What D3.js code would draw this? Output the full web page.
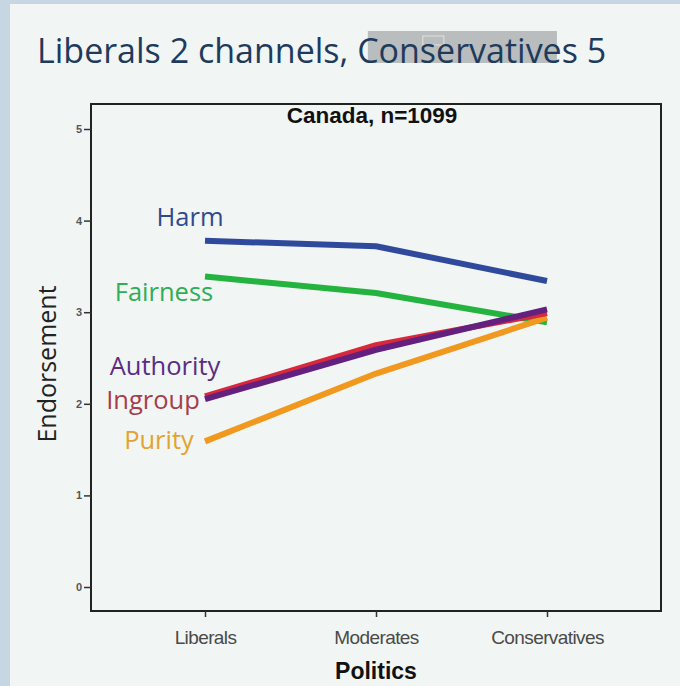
<!DOCTYPE html>
<html>
<head>
<meta charset="utf-8">
<script src="https://cdn.jsdelivr.net/npm/d3@7"></script>
<style>
body { margin: 0; background: #c6d6e3; }
svg { display: block; }
</style>
</head>
<body>
<div class="chart"></div>
<script>
var width = 680, height = 686;

// data
var groups = ["Liberals", "Moderates", "Conservatives"];
var foundations = ["Harm", "Fairness", "Purity", "Ingroup", "Authority"];
var harm = [3.78, 3.72, 3.34];
var fairness = [3.39, 3.21, 2.89];
var ingroup = [2.08, 2.64, 2.99];
var authority = [2.05, 2.59, 3.03];
var purity = [1.59, 2.33, 2.94];
var y_ticks = [0, 1, 2, 3, 4, 5];
var line_colors = {Harm: "#2f4a9c", Fairness: "#25b340", Purity: "#f1981f", Ingroup: "#d8283c", Authority: "#64207f"};
var label_colors = {Harm: "#2f4b8e", Fairness: "#2fae57", Purity: "#e2a42e", Ingroup: "#a63c4c", Authority: "#5a2d85"};
var label_pos = {Harm: [190, 226], Fairness: [164, 301], Authority: [165, 375], Ingroup: [153, 409], Purity: [159, 449]};

var series = {Harm: harm, Fairness: fairness, Purity: purity, Ingroup: ingroup, Authority: authority};

var svg = d3.select(".chart").append("svg")
    .attr("width", width)
    .attr("height", height);

// slide background
svg.append("rect")
    .attr("x", 10).attr("y", 4)
    .attr("width", width - 10).attr("height", height - 4)
    .attr("fill", "#f1f5f3");

// title with the grey selection box
var sel_box = svg.append("rect")
    .attr("y", 31)
    .attr("height", 32)
    .attr("fill", "#b9bdbd");
var sel_square = svg.append("rect")
    .attr("y", 36)
    .attr("width", 21).attr("height", 9)
    .attr("fill", "none").attr("stroke", "#e3e3e3").attr("stroke-width", 1);

var title = svg.append("text")
    .attr("x", 37).attr("y", 63)
    .attr("font-family", "Open Sans, sans-serif")
    .attr("font-size", 34)
    .attr("fill", "#1e3a5c")
    .text("Liberals 2 channels, Conservatives 5");

// box runs from the middle of the "C" of Conservatives to most of its last "e"
var tnode = title.node();
var str = tnode.textContent;
var ic = str.indexOf("Conservatives");
var ie = ic + "Conservativ".length;
var box_x0 = (tnode.getStartPositionOfChar(ic).x + tnode.getEndPositionOfChar(ic).x) / 2;
var box_x1 = tnode.getStartPositionOfChar(ie).x + 0.75 * (tnode.getEndPositionOfChar(ie).x - tnode.getStartPositionOfChar(ie).x);
sel_box.attr("x", box_x0).attr("width", box_x1 - box_x0);
sel_square.attr("x", box_x0 + 55);

var margin = {top: 104, right: 19, bottom: 75, left: 91};

var x = d3.scalePoint()
    .domain(groups)
    .range([205, 547]);

var y = d3.scaleLinear()
    .domain([0, 5])
    .range([587, 129]);

// frame
svg.append("rect")
    .attr("x", margin.left).attr("y", margin.top)
    .attr("width", width - margin.left - margin.right)
    .attr("height", height - margin.top - margin.bottom)
    .attr("fill", "none")
    .attr("stroke", "#222")
    .attr("stroke-width", 2);

// axes
var y_axis = svg.append("g")
    .attr("transform", "translate(" + margin.left + ",0)")
    .call(d3.axisLeft(y).tickValues(y_ticks).tickFormat(d3.format("d")).tickSize(7).tickPadding(2));
y_axis.select(".domain").remove();
y_axis.selectAll("line").attr("stroke", "#333").attr("stroke-width", 1.5);
y_axis.selectAll("text")
    .attr("font-family", "Liberation Sans, Arial, sans-serif")
    .attr("font-weight", "bold")
    .attr("font-size", 11).attr("fill", "#555");

var x_axis = svg.append("g")
    .attr("transform", "translate(0," + (height - margin.bottom) + ")")
    .call(d3.axisBottom(x).tickSize(6).tickPadding(14));
x_axis.select(".domain").remove();
x_axis.selectAll("line").attr("stroke", "#333").attr("stroke-width", 1.5);
x_axis.selectAll("text")
    .attr("font-family", "Liberation Sans, Arial, sans-serif")
    .attr("font-size", 19).attr("fill", "#4a4a4a")
    .attr("letter-spacing", -0.6);

// titles
svg.append("text")
    .attr("x", 372).attr("y", 123)
    .attr("text-anchor", "middle")
    .attr("font-family", "Liberation Sans, Arial, sans-serif")
    .attr("font-weight", "bold")
    .attr("font-size", 22.5)
    .attr("fill", "#111")
    .text("Canada, n=1099");

svg.append("text")
    .attr("x", 376).attr("y", 679)
    .attr("text-anchor", "middle")
    .attr("font-family", "Liberation Sans, Arial, sans-serif")
    .attr("font-weight", "bold")
    .attr("font-size", 23)
    .attr("fill", "#111")
    .text("Politics");

svg.append("text")
    .attr("transform", "translate(56,364) rotate(-90)")
    .attr("text-anchor", "middle")
    .attr("font-family", "Open Sans, sans-serif")
    .attr("font-size", 25)
    .attr("fill", "#222")
    .text("Endorsement");

// lines
var line = d3.line()
    .x(function(d, i){ return x(groups[i]); })
    .y(function(d){ return y(d); });

svg.append("g").selectAll("path")
    .data(foundations)
    .enter()
    .append("path")
    .attr("d", function(d){ return line(series[d]); })
    .attr("fill", "none")
    .attr("stroke", function(d){ return line_colors[d]; })
    .attr("stroke-width", 6)
    .attr("stroke-linejoin", "round");

// labels
svg.append("g").selectAll("text")
    .data(foundations)
    .enter()
    .append("text")
    .attr("x", function(d){ return label_pos[d][0]; })
    .attr("y", function(d){ return label_pos[d][1]; })
    .attr("text-anchor", "middle")
    .attr("font-family", "Open Sans, sans-serif")
    .attr("font-size", 25.5)
    .attr("fill", function(d){ return label_colors[d]; })
    .text(function(d){ return d; });
</script>
</body>
</html>
